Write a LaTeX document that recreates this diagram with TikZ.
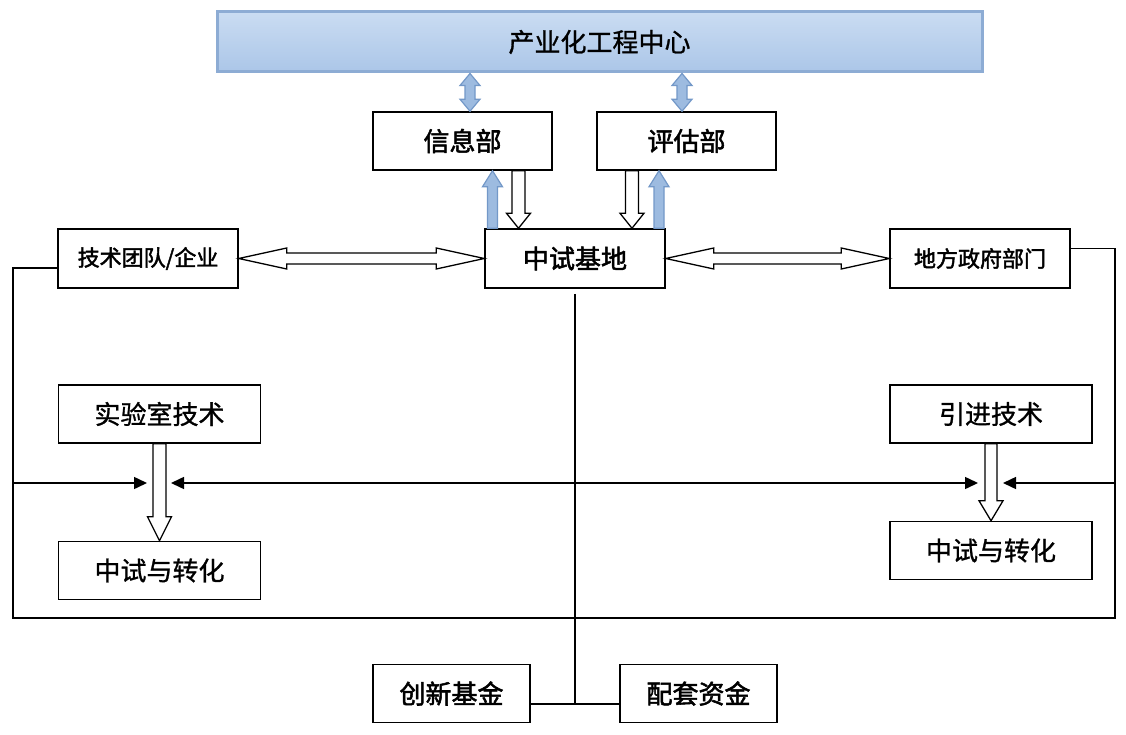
\documentclass[tikz,border=0pt]{standalone}
\usepackage{fontspec}
\setmainfont{Noto Sans CJK SC}
\newfontfamily\cjkmid[FakeBold=1]{Noto Sans CJK SC}
\newfontfamily\cjkheavy[FakeBold=2]{Noto Sans CJK SC}
\usetikzlibrary{calc,arrows.meta}
\definecolor{topA}{HTML}{CADCF2}
\definecolor{topB}{HTML}{ABC6E8}
\definecolor{topD}{HTML}{8DACD4}
\definecolor{arrF}{HTML}{9DBBE0}
\definecolor{arrD}{HTML}{7398C8}
% vertical block arrow: style, start, tip, half shaft, half head, head length
\newcommand\vblock[6]{%
  \path[#1] let \p1=(#2), \p2=(#3), \n1={ifthenelse(\y2>\y1,1,-1)} in
    ({\x1-#4},\y1) -- ({\x1-#4},{\y2-(\n1)*(#6)}) -- ({\x1-#5},{\y2-(\n1)*(#6)}) -- (\x1,\y2)
    -- ({\x1+#5},{\y2-(\n1)*(#6)}) -- ({\x1+#4},{\y2-(\n1)*(#6)}) -- ({\x1+#4},\y1) -- cycle;}
% vertical double block arrow
\newcommand\vdbl[6]{%
  \path[#1] let \p1=(#2), \p2=(#3), \n1={ifthenelse(\y2>\y1,1,-1)} in
    (\x1,\y1) -- ({\x1+#5},{\y1+(\n1)*(#6)}) -- ({\x1+#4},{\y1+(\n1)*(#6)}) -- ({\x1+#4},{\y2-(\n1)*(#6)})
    -- ({\x1+#5},{\y2-(\n1)*(#6)}) -- (\x1,\y2) -- ({\x1-#5},{\y2-(\n1)*(#6)}) -- ({\x1-#4},{\y2-(\n1)*(#6)})
    -- ({\x1-#4},{\y1+(\n1)*(#6)}) -- ({\x1-#5},{\y1+(\n1)*(#6)}) -- cycle;}
% horizontal double block arrow
\newcommand\hdbl[6]{%
  \path[#1] let \p1=(#2), \p2=(#3), \n1={ifthenelse(\x2>\x1,1,-1)} in
    (\x1,\y1) -- ({\x1+(\n1)*(#6)},{\y1+#5}) -- ({\x1+(\n1)*(#6)},{\y1+#4}) -- ({\x2-(\n1)*(#6)},{\y1+#4})
    -- ({\x2-(\n1)*(#6)},{\y1+#5}) -- (\x2,\y1) -- ({\x2-(\n1)*(#6)},{\y1-#5}) -- ({\x2-(\n1)*(#6)},{\y1-#4})
    -- ({\x1+(\n1)*(#6)},{\y1-#4}) -- ({\x1+(\n1)*(#6)},{\y1-#5}) -- cycle;}
\begin{document}
\begin{tikzpicture}[x=1pt,y=-1pt,
  bx/.style 2 args={draw=black, line width=1.5pt, fill=white, inner sep=0pt,
     minimum width=#1, minimum height=#2},
  big/.style={font=\cjkheavy\fontsize{26}{30}\selectfont},
  bign/.style={font=\cjkmid\fontsize{26}{30}\selectfont},
  sml/.style={font=\cjkheavy\fontsize{22}{26}\selectfont},
  ln/.style={draw=black, line width=1.5pt, line join=miter},
  tipR/.style={-{Triangle[length=13pt,width=12pt]}},
  tipLR/.style={{Triangle[length=13pt,width=12pt]}-{Triangle[length=13pt,width=12pt]}},
  hollow/.style={draw=black, fill=white, line width=1.3pt, line join=miter},
  bluearr/.style={draw=arrD, fill=arrF, line width=1.2pt, line join=miter}]
\useasboundingbox (0,0) rectangle (1126,735);
\fill[white] (0,0) rectangle (1126,735);

% nodes
\node[draw=topD, line width=3pt, top color=topA, bottom color=topB, inner sep=0pt,
      minimum width=765pt, minimum height=60pt, bign] (top) at (599.5,42) {产业化工程中心};
\node[bx={179pt}{58pt}, big] (info) at (462.5,141) {信息部};
\node[bx={179pt}{58pt}, big] (eval) at (686.5,141) {评估部};
\node[bx={180pt}{59pt}, big] (base) at (575,258.5) {中试基地};
\node[bx={180pt}{59pt}, sml] (team) at (148,258.5) {技术团队/企业};
\node[bx={180pt}{59pt}, sml] (gov) at (980,258.5) {地方政府部门};
\node[bx={202pt}{58pt}, bign] (lab) at (159.5,414) {实验室技术};
\node[bx={202pt}{58pt}, bign] (pilotL) at (159.5,570.5) {中试与转化};
\node[bx={202pt}{58pt}, bign] (intro) at (991,414) {引进技术};
\node[bx={202pt}{58pt}, bign] (pilotR) at (991,550.5) {中试与转化};
\node[bx={157pt}{58pt}, big] (fund1) at (451.5,693.5) {创新基金};
\node[bx={157pt}{58pt}, big] (fund2) at (698.5,693.5) {配套资金};

% blue arrows
\vdbl{bluearr}{470,0 |- top.south}{470,0 |- info.north}{5pt}{10pt}{12pt}
\vdbl{bluearr}{682,0 |- top.south}{682,0 |- eval.north}{5pt}{10pt}{12pt}
\vblock{bluearr}{492.5,0 |- base.north}{492.5,0 |- info.south}{5pt}{10pt}{16pt}
\vblock{bluearr}{659,0 |- base.north}{659,0 |- eval.south}{5pt}{10pt}{16pt}

% hollow arrows
\vblock{hollow}{518.5,0 |- info.south}{518.5,0 |- base.north}{6.5pt}{12pt}{15pt}
\vblock{hollow}{632,0 |- eval.south}{632,0 |- base.north}{6.5pt}{12pt}{15pt}
\hdbl{hollow}{team.east}{base.west}{5.5pt}{10.5pt}{48pt}
\hdbl{hollow}{base.east}{gov.west}{5.5pt}{10.5pt}{48pt}
\vblock{hollow}{159.5,0 |- lab.south}{159.5,0 |- pilotL.north}{6.5pt}{12pt}{24pt}
\vblock{hollow}{991,0 |- intro.south}{991,0 |- pilotR.north}{6pt}{12pt}{20pt}

% outer loop
\coordinate (cTL) at (13,268);
\coordinate (cBL) at (13,618);
\coordinate (cBR) at (1115,618);
\coordinate (cTR) at (1115,248.5);
\draw[ln] ($(team.west)+(0,9.5)$) -- (cTL) -- (cBL) -- (cBR) -- (cTR) -- ($(gov.east)+(0,-10)$);

% side arrows
\coordinate (mL) at (13,483);
\coordinate (mR) at (1115,483);
\coordinate (aL) at (147,483);
\coordinate (aR) at (1003,483);
\coordinate (bL) at (171,483);
\coordinate (bR) at (978,483);
\draw[ln,tipR] (mL) -- (aL);
\draw[ln,tipR] (mR) -- (aR);
\draw[ln,tipLR] (bL) -- (bR);

% centre line
\coordinate (cJ) at (575,704);
\draw[ln] ([yshift=-5pt]base.south) -- (cJ);
\draw[ln] (fund1.east |- cJ) -- (fund2.west |- cJ);
\end{tikzpicture}
\end{document}
